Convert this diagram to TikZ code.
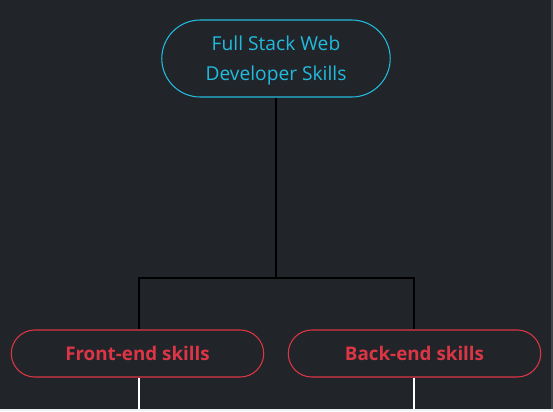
\documentclass[tikz,border=0pt]{standalone}
\usepackage{fontspec}
\setmainfont{Open Sans}
\usepackage{tikz}
\usepackage{xcolor}
\usetikzlibrary{
    shapes,
    shapes.misc
}
\definecolor{darkbg}{HTML}{212529}
\definecolor{skillcyan}{HTML}{22BBDD}
\definecolor{skillred}{HTML}{DC3545}
\definecolor{pagestrip}{HTML}{EEF0F3}
\tikzset{rootpill/.style={draw=skillcyan, text=skillcyan, rounded rectangle, line width=0.8pt, minimum width=178pt, minimum height=57.75pt, align=center, text depth=0pt, font=\fontsize{14.4pt}{22.5pt}\selectfont}}
\tikzset{childpill/.style={draw=skillred, text=skillred, rounded rectangle, line width=0.8pt, minimum width=196pt, minimum height=35.25pt, font=\fontsize{14.1pt}{16pt}\selectfont\bfseries}}

\begin{document}
\begin{tikzpicture}[x=0.75pt, y=-0.75pt]
            \fill[darkbg] (0,0) rectangle (553,411);
            \fill[pagestrip] (0,409) rectangle (553,411);
            \fill[darkbg!85!white] (551,0) rectangle (553,409);
            \useasboundingbox (0,0) rectangle (553,411);
            
            \node[rootpill] (root) at (276, 58.5) {Full Stack Web\\Developer Skills};
            
            \node[childpill] (front) at (137.5, 353.5) {Front-end skills};
            \node[childpill] (back) at (414.5, 353.5) {Back-end skills};
            
            \coordinate (split) at (276, 278);
            \coordinate (frontend) at (139, 409);
            \coordinate (backend) at (414, 409);
            
            \draw[black, line width=1.5pt] (root.south)--(split);
            \draw[black, line width=1.5pt] (split) -| (front.north -| frontend);
            \draw[black, line width=1.5pt] (split) -| (back.north -| backend);
            
            \draw[white, line width=1.5pt] (front.south -| frontend)--(frontend);
            \draw[white, line width=1.5pt] (back.south -| backend)--(backend);
            \end{tikzpicture}
\end{document}
